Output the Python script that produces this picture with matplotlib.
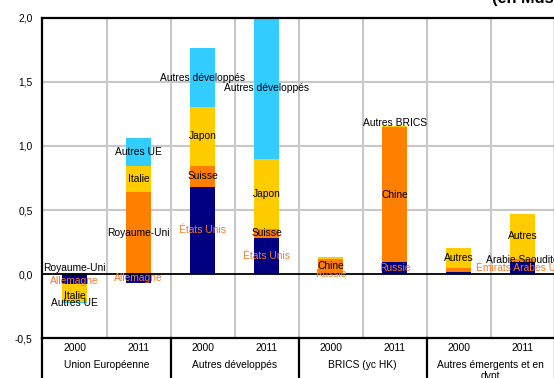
import numpy as np
import matplotlib
matplotlib.use('Agg')
import matplotlib.pyplot as plt
import matplotlib.transforms as mtransforms

plt.rcParams['font.family'] = ['Liberation Sans', 'DejaVu Sans']

# Data (en Mds), stacking order: navy, orange, yellow, light blue
groups = ['Union Européenne', 'Autres développés', 'BRICS (yc HK)', 'Autres émergents et en\ndvpt']
years = ['2000', '2011']

ueNames = ['Allemagne', 'Royaume-Uni', 'Italie', 'Autres UE']
ue2000 = [-0.075, 0.005, -0.145, -0.01]
ue2011 = [-0.07, 0.64, 0.20, 0.22]

devNames = ['États Unis', 'Suisse', 'Japon', 'Autres développés']
dev2000 = [0.68, 0.165, 0.46, 0.46]
dev2011 = [0.28, 0.075, 0.545, 1.10]

bricsNames = ['Russie', 'Chine', 'Autres BRICS']
brics2000 = [0.005, 0.115, 0.01]
brics2011 = [0.09, 1.06, 0.01]

emNames = ['Émirats Arabes Unis', 'Arabie Saoudite', 'Autres']
em2000 = [0.015, 0.03, 0.155]
em2011 = [0.095, 0.025, 0.35]

# which labels are shown on each bar
ueShow = [[1, 1, 1, 1], [1, 1, 1, 1]]
devShow = [[1, 1, 1, 1], [1, 1, 1, 1]]
bricsShow = [[1, 1, 0], [1, 1, 1]]
emShow = [[0, 0, 1], [1, 1, 1]]

colors = ['#000080', '#FF8000', '#FFCC00', '#33CCFF']
labelColors = ['#F07B2A', 'black', 'black', 'black']

# small nudges (points) for crowded labels, keyed by (bar index, label)
labelNudge = {(0, 'Royaume-Uni'): 4, (0, 'Allemagne'): -1.5, (0, 'Italie'): -2,
              (5, 'Autres BRICS'): 2}

allGroups = [
    (ueNames, [ue2000, ue2011], ueShow),
    (devNames, [dev2000, dev2011], devShow),
    (bricsNames, [brics2000, brics2011], bricsShow),
    (emNames, [em2000, em2011], emShow),
]

fig = plt.figure(figsize=(5.54, 3.78), dpi=100)
ax = fig.add_axes([0.0767, 0.1058, 0.9245, 0.8466])

fs = 7.4
barWidth = 0.4

# grid
for yv in [0.5, 1.0, 1.5]:
    ax.axhline(yv, color='#C8C8C8', lw=1.5, zorder=0)
for xv in np.arange(0.5, 7.5, 1.0):
    ax.axvline(xv, color='#C8C8C8', lw=1.5, zorder=0)

pos = 0
for names, series, show in allGroups:
    for yi, vals in enumerate(series):
        up = 0.0
        down = 0.0
        for k, v in enumerate(vals):
            if v >= 0:
                bottom = up
                up += v
            else:
                bottom = down
                down += v
            ax.bar(pos, v, bottom=bottom, width=barWidth, color=colors[k], zorder=2)
            if show[yi][k]:
                ax.annotate(names[k], (pos, bottom + v / 2),
                            xytext=(0, labelNudge.get((pos, names[k]), 0)),
                            textcoords='offset points', ha='center', va='center',
                            fontsize=fs, color=labelColors[k], zorder=4)
        pos += 1

ax.axhline(0, color='black', lw=1.3, zorder=3)

ax.set_xlim(-0.5, 7.5)
ax.set_ylim(-0.5, 2.0)
ax.set_yticks([-0.5, 0.0, 0.5, 1.0, 1.5, 2.0])
ax.set_yticklabels(['-0,5', '0,0', '0,5', '1,0', '1,5', '2,0'], fontsize=fs)
ax.set_xticks([])
ax.tick_params(axis='y', length=0, pad=7)
for s in ax.spines.values():
    s.set_linewidth(1.6)
    s.set_color('black')

# category table below the axis
trans = mtransforms.blended_transform_factory(ax.transData, ax.transAxes)
for xb in [-0.5, 1.5, 3.5, 5.5, 7.5]:
    ax.plot([xb, xb], [0, -0.3], color='black', lw=1.6, transform=trans, clip_on=False)

for i in range(8):
    ax.text(i, -0.578, years[i % 2], ha='center', va='center', fontsize=fs)
for g, name in enumerate(groups):
    ax.text(2 * g + 0.5, -0.672, name, ha='center', va='top', fontsize=fs,
            linespacing=1.15)

fig.text(492 / 554, 1 - 3.5 / 378, '(en Mds de $)', ha='left', va='baseline',
         fontsize=11.8, fontweight='bold')

fig.savefig('out.png', dpi=100)
